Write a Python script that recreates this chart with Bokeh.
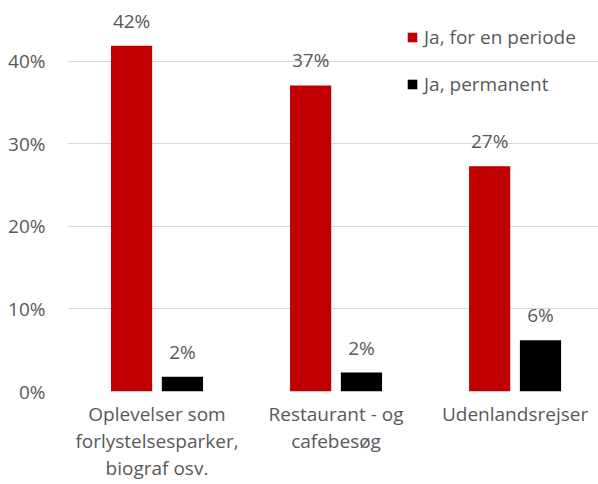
from bokeh.plotting import figure
from bokeh.models import ColumnDataSource, Range1d, FixedTicker, PrintfTickFormatter
from bokeh.transform import dodge
from bokeh.core.properties import value
from bokeh.embed import file_html
from bokeh.resources import INLINE

categories = ["Oplevelser som\nforlystelsesparker,\nbiograf osv.", "Restaurant - og\ncafebesøg", "Udenlandsrejser"]
series_names = ["Ja, for en periode", "Ja, permanent"]
periode = [41.9, 37.1, 27.3]
permanent = [1.8, 2.3, 6.2]
periode_labels = ["42%", "37%", "27%"]
permanent_labels = ["2%", "2%", "6%"]
y_ticks = [0, 10, 20, 30, 40]

FONT = "Open Sans"
TXT = "#595959"
RED = "#C00000"
BLACK = "#000000"

xpos = [i + 0.5 for i in range(len(categories))]
src = ColumnDataSource(dict(x=xpos, periode=periode, permanent=permanent,
                            pl=periode_labels, ml=permanent_labels))

p = figure(width=598, height=484, output_backend="svg", toolbar_location=None,
           x_range=Range1d(0, 2.966), y_range=Range1d(0, 46.42),
           min_border_left=67, min_border_right=0, min_border_top=8, min_border_bottom=93)
p.outline_line_color = None

w = 0.23
p.vbar(x=dodge("x", -0.142, range=p.x_range), top="periode", width=w, source=src,
       fill_color=RED, line_color=None, legend_label=series_names[0])
p.vbar(x=dodge("x", 0.142, range=p.x_range), top="permanent", width=w, source=src,
       fill_color=BLACK, line_color=None, legend_label=series_names[1])

p.text(x=dodge("x", -0.142, range=p.x_range), y="periode", text="pl", source=src,
       text_align="center", text_baseline="alphabetic", y_offset=-25,
       text_font=value(FONT), text_font_size="19px", text_color=TXT)
p.text(x=dodge("x", 0.142, range=p.x_range), y="permanent", text="ml", source=src,
       text_align="center", text_baseline="alphabetic", y_offset=-25,
       text_font=value(FONT), text_font_size="19px", text_color=TXT)

# axes
p.yaxis.ticker = FixedTicker(ticks=y_ticks)
p.yaxis.formatter = PrintfTickFormatter(format="%d%%")
p.yaxis.axis_line_color = None
p.yaxis.major_tick_line_color = None
p.yaxis.minor_tick_line_color = None
p.yaxis.major_tick_out = 0
p.yaxis.major_tick_in = 0
p.yaxis.major_label_standoff = 22
p.yaxis.major_label_text_font = FONT
p.yaxis.major_label_text_font_size = "19px"
p.yaxis.major_label_text_color = TXT

p.xaxis.ticker = FixedTicker(ticks=xpos)
p.xaxis.major_label_overrides = {x: c for x, c in zip(xpos, categories)}
p.xaxis.axis_line_color = None
p.xaxis.major_tick_line_color = None
p.xaxis.minor_tick_line_color = None
p.xaxis.major_tick_out = 0
p.xaxis.major_tick_in = 0
p.xaxis.major_label_standoff = 9
p.xaxis.major_label_text_line_height = 1.05
p.xaxis.major_label_text_font = FONT
p.xaxis.major_label_text_font_size = "19px"
p.xaxis.major_label_text_color = TXT

p.xgrid.grid_line_color = None
p.ygrid.ticker = FixedTicker(ticks=y_ticks)
p.ygrid.grid_line_color = "#D9D9D9"
p.ygrid.grid_line_width = 1

lg = p.legend[0]
lg.location = (339, 294)
lg.padding = 0
lg.margin = 0
lg.border_line_color = None
lg.background_fill_alpha = 0
lg.glyph_width = 12
lg.glyph_height = 12
lg.label_height = 26
lg.spacing = 21
lg.label_standoff = 6
lg.label_text_font = FONT
lg.label_text_font_size = "19px"
lg.label_text_color = TXT

open("out.html", "w").write(file_html(p, INLINE))
